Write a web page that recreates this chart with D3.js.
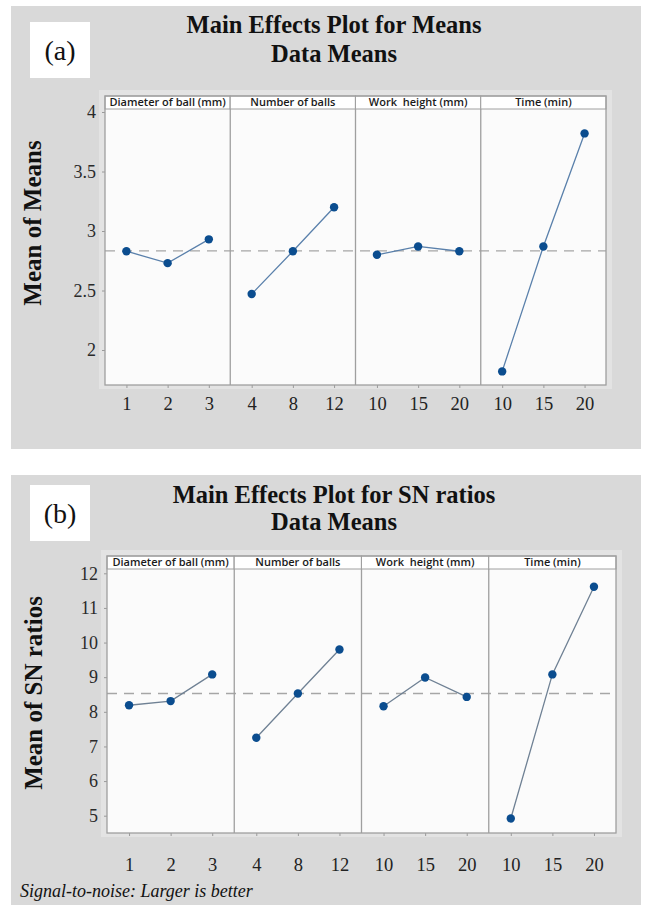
<!DOCTYPE html>
<html>
<head>
<meta charset="utf-8">
<script src="https://cdn.jsdelivr.net/npm/d3@7"></script>
<style>
  html, body { margin: 0; padding: 0; background: #ffffff; }
  svg { display: block; }
</style>
</head>
<body>
<svg id="chart" width="650" height="905"></svg>
<script>
// ---------- DATA ----------
const factors = ["Diameter of ball (mm)", "Number of balls", "Work  height (mm)", "Time (min)"];
const levels = [["1", "2", "3"], ["4", "8", "12"], ["10", "15", "20"], ["10", "15", "20"]];
const meansA = [[2.83, 2.73, 2.93], [2.47, 2.83, 3.20], [2.80, 2.87, 2.83], [1.82, 2.87, 3.82]];
const snB = [[8.19, 8.31, 9.08], [7.25, 8.53, 9.80], [8.16, 8.99, 8.43], [4.92, 9.08, 11.61]];
const yTicksA = [2, 2.5, 3, 3.5, 4];
const yTicksB = [5, 6, 7, 8, 9, 10, 11, 12];
const titlesA = ["Main Effects Plot for Means", "Data Means"];
const titlesB = ["Main Effects Plot for SN ratios", "Data Means"];
const yTitleA = "Mean of Means";
const yTitleB = "Mean of SN ratios";
const footnote = "Signal-to-noise: Larger is better";

// ---------- DRAW ----------
const svg = d3.select("#chart");
const serif = "'Liberation Serif', 'Times New Roman', serif";
const sans = "'Open Sans', 'Noto Sans', sans-serif";

function drawFigure(cfg) {
  const g = svg.append("g");
  // grey background
  g.append("rect").attr("x", cfg.bg[0]).attr("y", cfg.bg[1]).attr("width", cfg.bg[2]).attr("height", cfg.bg[3])
    .attr("fill", "#d9d9d9");
  // lighter figure region
  g.append("rect").attr("x", cfg.left - 6).attr("y", cfg.headTop - 6)
    .attr("width", cfg.right - cfg.left + 12).attr("height", cfg.bottom - cfg.headTop + 10)
    .attr("fill", "#e3e3e3");
  // label box
  g.append("rect").attr("x", 30).attr("y", cfg.labY).attr("width", 60).attr("height", 56).attr("fill", "#ffffff");
  g.append("text").attr("x", 60).attr("y", cfg.labY + 38).attr("text-anchor", "middle")
    .attr("font-family", serif).attr("font-size", 28).attr("fill", "#111").text(cfg.label);
  // titles
  g.append("text").attr("x", 334).attr("y", cfg.titleY[0]).attr("text-anchor", "middle")
    .attr("font-family", serif).attr("font-weight", "bold").attr("font-size", 24.5).attr("fill", "#111").text(cfg.titles[0]);
  g.append("text").attr("x", 334).attr("y", cfg.titleY[1]).attr("text-anchor", "middle")
    .attr("font-family", serif).attr("font-weight", "bold").attr("font-size", 24.5).attr("fill", "#111").text(cfg.titles[1]);
  // y title
  g.append("text").attr("transform", `translate(${cfg.yTitleX},${cfg.yTitleY}) rotate(-90)`)
    .attr("text-anchor", "middle").attr("font-family", serif).attr("font-weight", "bold")
    .attr("font-size", cfg.yTitleSize).attr("fill", "#111").text(cfg.yTitle);

  const y = d3.scaleLinear().domain(cfg.yDomain).range(cfg.yRange);
  const panels = d3.scaleBand().domain(factors).range([cfg.left, cfg.right]).padding(0);

  // plot area
  g.append("rect").attr("x", cfg.left).attr("y", cfg.headTop).attr("width", cfg.right - cfg.left)
    .attr("height", cfg.bottom - cfg.headTop).attr("fill", "#fbfbfb");

  // y axis
  const ya = g.append("g").attr("transform", `translate(${cfg.left},0)`)
    .call(d3.axisLeft(y).tickValues(cfg.yTicks).tickSize(3).tickPadding(6).tickFormat(d3.format("")));
  ya.select(".domain").remove();
  ya.selectAll("line").attr("stroke", "#9a9a9a");
  ya.selectAll("text").attr("font-family", serif).attr("font-size", 18).attr("fill", "#2a2a2a");

  // mean reference line
  const overall = d3.mean(cfg.data.flat());
  g.append("line").attr("x1", cfg.left).attr("x2", cfg.right).attr("y1", y(overall)).attr("y2", y(overall))
    .attr("stroke", "#a6a6a6").attr("stroke-width", 1.4).attr("stroke-dasharray", "10,7");

  factors.forEach((f, i) => {
    const x0 = panels(f), x1 = x0 + panels.bandwidth();
    const x = d3.scalePoint().domain(levels[i]).range([x0, x1]).padding(cfg.xPad);
    // divider
    if (i > 0) {
      g.append("line").attr("x1", x0).attr("x2", x0).attr("y1", cfg.headTop).attr("y2", cfg.bottom)
        .attr("stroke", "#9f9f9f").attr("stroke-width", 1.3);
    }
    // header
    g.append("rect").attr("x", x0).attr("y", cfg.headTop).attr("width", x1 - x0).attr("height", cfg.headH)
      .attr("fill", "#ffffff").attr("stroke", "#a0a0a0").attr("stroke-width", 1);
    g.append("text").attr("x", (x0 + x1) / 2).attr("y", cfg.headTop + cfg.headH - 3).attr("text-anchor", "middle")
      .attr("font-family", sans).attr("font-size", 11).attr("font-weight", 600).attr("fill", "#1a1a1a")
      .attr("xml:space", "preserve").style("white-space", "pre").text(f);
    // x axis
    const xa = g.append("g").attr("transform", `translate(0,${cfg.bottom})`)
      .call(d3.axisBottom(x).tickSize(3).tickPadding(cfg.xLabPad));
    xa.select(".domain").remove();
    xa.selectAll("line").attr("stroke", "#9a9a9a");
    xa.selectAll("text").attr("font-family", serif).attr("font-size", 18.5).attr("fill", "#222");
    // line + points
    const pts = levels[i].map((l, j) => [x(l), y(cfg.data[i][j])]);
    g.append("path").attr("d", d3.line()(pts)).attr("fill", "none").attr("stroke", cfg.lineColor).attr("stroke-width", 1.3);
    g.selectAll(null).data(pts).enter().append("circle")
      .attr("cx", d => d[0]).attr("cy", d => d[1]).attr("r", 4.2).attr("fill", "#0b4d8f");
  });

  // frame
  g.append("rect").attr("x", cfg.left).attr("y", cfg.headTop).attr("width", cfg.right - cfg.left)
    .attr("height", cfg.bottom - cfg.headTop).attr("fill", "none").attr("stroke", "#9f9f9f").attr("stroke-width", 1.3);
}

drawFigure({
  bg: [11, 6, 630, 443], label: "(a)", labY: 22, titles: titlesA, titleY: [33, 62],
  yTitle: yTitleA, yTitleX: 41, yTitleY: 223, yTitleSize: 25,
  left: 105, right: 606, headTop: 96, headH: 13, bottom: 385,
  yDomain: [2, 4], yRange: [350, 112], yTicks: yTicksA, data: meansA,
  xPad: 0.52, xLabPad: 9, lineColor: "#5a80ab"
});

drawFigure({
  bg: [11, 475, 630, 430], label: "(b)", labY: 485, titles: titlesB, titleY: [503, 530],
  yTitle: yTitleB, yTitleX: 42, yTitleY: 693, yTitleSize: 25,
  left: 107, right: 616, headTop: 556, headH: 13, bottom: 833,
  yDomain: [5, 12], yRange: [815.7, 573.3], yTicks: yTicksB, data: snB,
  xPad: 0.53, xLabPad: 22, lineColor: "#6f8194"
});

svg.append("text").attr("x", 20).attr("y", 897).attr("font-family", serif).attr("font-style", "italic")
  .attr("font-size", 18).attr("fill", "#111").text(footnote);
</script>
</body>
</html>
